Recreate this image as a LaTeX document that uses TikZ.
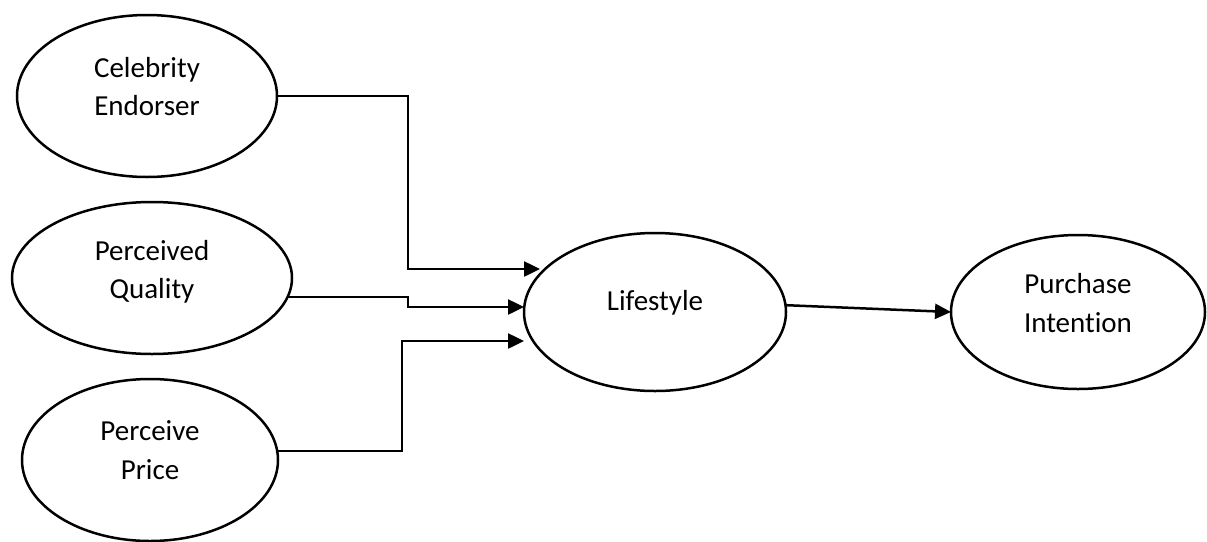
\documentclass[tikz,border=0pt]{standalone}
\usepackage{fontspec}
\setmainfont[Ligatures=NoCommon]{Carlito}
\usetikzlibrary{shapes.geometric,arrows.meta}
\tikzset{
  oval/.style={draw, ellipse, line width=2.5pt, inner sep=0pt, outer sep=0pt},
  lbl/.style={anchor=base, inner sep=0pt, font=\fontsize{29}{35}\selectfont},
  link/.style={line width=2.5pt},
  arr/.style={link, -{Triangle[length=16pt,width=15pt]}}
}
\begin{document}
\begin{tikzpicture}[x=1pt,y=-1pt]
\useasboundingbox (0,0) rectangle (1207,541);
% constructs
\node[oval, minimum width=260pt, minimum height=162pt] (ce) at (147,96) {};
\node[oval, minimum width=280pt, minimum height=152pt] (pq) at (152,278) {};
\node[oval, minimum width=256pt, minimum height=162pt] (pp) at (150,460) {};
\node[oval, minimum width=262pt, minimum height=158pt] (ls) at (655,312) {};
\node[oval, minimum width=254pt, minimum height=154pt] (pi) at (1078,312) {};
% labels
\node[lbl] (ce1) at (147,77) {Celebrity};
\node[lbl] (ce2) at (147,115) {Endorser};
\node[lbl] (pq1) at (152,260) {Perceived};
\node[lbl] (pq2) at (152,298) {Quality};
\node[lbl] (pp1) at (150,440) {Perceive};
\node[lbl] (pp2) at (150,479) {Price};
\node[lbl] (ls1) at (655,310) {Lifestyle};
\node[lbl] (pi1) at (1078,293) {Purchase};
\node[lbl] (pi2) at (1078,332) {Intention};
% arrow tips at the Lifestyle construct
\coordinate (t1) at (540,269);
\coordinate (t2) at (524,307);
\coordinate (t3) at (524,341);
% paths
\draw[arr] (ce.east) -| (408,269) -- (t1);
\draw[arr] (pq.-8) -| (408,307) -- (t2);
\draw[arr] (pp.4) -| (402,341) -- (t3);
\draw[arr] (ls.3) -- (pi.west);
\end{tikzpicture}
\end{document}
